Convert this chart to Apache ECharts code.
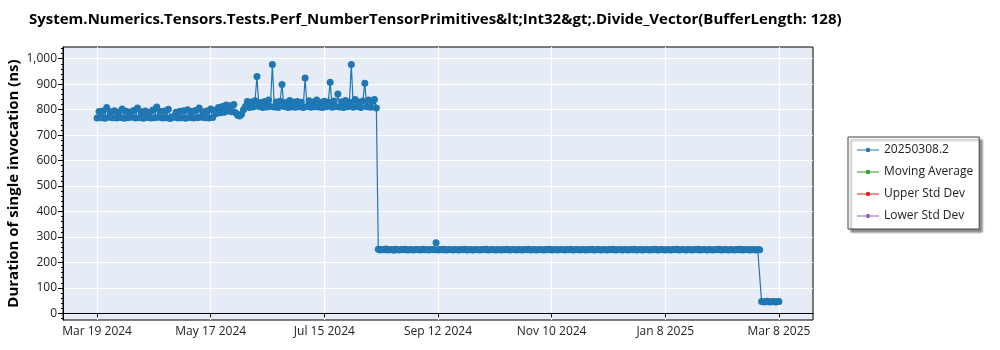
<!DOCTYPE html>
<html><head><meta charset="utf-8">
<script src="https://cdn.jsdelivr.net/npm/echarts@6/dist/echarts.min.js"></script>
<style>html,body{margin:0;padding:0;background:#fff}#c{width:1000px;height:350px}</style>
</head><body><div id="c"></div>
<script>
const titleText = 'System.Numerics.Tensors.Tests.Perf_NumberTensorPrimitives&lt;Int32&gt;.Divide_Vector(BufferLength: 128)';
const yAxisTitle = 'Duration of single invocation (ns)';
const seriesNames = ['20250308.2', 'Moving Average', 'Upper Std Dev', 'Lower Std Dev'];
const seriesColors = ['#1f77b4', '#2ca02c', '#d62728', '#9467bd'];

// one value per day, starting at startDate
const startDate = '2024-03-19';
// Mar 19 - May 19 2024
const seg1 = [767,793,768,795,766,808,770,792,768,796,767,790,769,803,766,794,768,791,770,797,
  767,806,768,792,766,795,769,790,767,799,768,810,770,793,767,795,768,802,765,772,
  770,790,767,794,768,796,766,800,769,793,767,797,768,806,770,792,768,795,767,803,769,798];
// May 20 - Jun 3 2024
const seg2 = [785,808,788,812,790,818,795,815,792,820,788,778,775,782,800];
// Jun 4 - Aug 11 2024
const seg3 = [812,832,808,830,810,835,930,812,828,808,832,810,838,812,977,810,830,808,833,899,
  812,828,808,836,810,830,809,832,811,829,808,924,812,835,809,830,811,838,810,829,
  808,833,811,830,908,809,834,812,861,810,831,808,836,811,829,977,809,840,812,830,
  808,834,904,811,838,809,832,840,806];
// Aug 12 2024 - Feb 26 2025
const seg4 = [252,249,251,250,253,249,250,251,248,252,250,249,251,250,252,249,250,251,249,250,
  251,250,249,252,250,251,249,250,251,250,277,249,251,250,252,249,250,251,250,249,
  251,250,249,251,250,252,249,250,251,249,250,251,250,249,251,250,252,249,250,251,
  250,249,251,250,249,251,250,252,249,250,251,250,249,251,250,249,251,250,252,249,
  250,251,249,250,251,250,249,251,250,252,249,250,251,249,250,251,250,249,251,250,
  252,249,250,251,250,249,251,250,249,251,250,252,249,250,251,250,249,251,250,249,
  251,250,252,249,250,251,250,249,251,250,249,251,250,252,249,250,251,249,250,251,
  250,249,251,250,252,249,250,251,250,249,251,250,249,251,250,252,249,250,251,250,
  249,251,250,249,251,250,252,249,250,251,250,249,251,250,249,251,250,252,249,250,
  251,250,249,251,250,249,251,250,252,249,250,251,250,249,251,250,249,251,250];
// Feb 27 - Mar 8 2025
const seg5 = [47,45,46,48,45,46,47,45,46,47];

const xTickDates = ['2024-03-19','2024-05-17','2024-07-15','2024-09-12','2024-11-10','2025-01-08','2025-03-08'];
const xTickLabels = ['Mar 19 2024','May 17 2024','Jul 15 2024','Sep 12 2024','Nov 10 2024','Jan 8 2025','Mar 8 2025'];
const yTicks = [0,100,200,300,400,500,600,700,800,900,1000];

const DAY = 86400000;
const t0 = Date.parse(startDate + 'T00:00:00Z');
const values = [].concat(seg1, seg2, seg3, seg4, seg5);
const mainData = values.map((v, i) => [t0 + i * DAY, v]);
const xTickVals = xTickDates.map(d => Date.parse(d + 'T00:00:00Z'));
const labelOf = {};
xTickVals.forEach((v, i) => { labelOf[v] = xTickLabels[i]; });
const yMinor = [];
for (let v = -20; v <= 1040; v += 20) yMinor.push(v);

const lastT = t0 + (values.length - 1) * DAY;
const pad = (lastT - t0) * 0.05;
const yMin = -26, yMax = 1046;
const FONT = 'Open Sans';

const legendIcon = 'path://M0,6.4L22,6.4L22,7.6L0,7.6Z M13.2,7 A2.2,2.2 0 1 1 8.8,7 A2.2,2.2 0 1 1 13.2,7Z';

const chart = echarts.init(document.getElementById('c'), null, {renderer: 'canvas'});
const series = [{
  name: seriesNames[0], type: 'line', data: mainData,
  symbol: 'circle', symbolSize: 7, showAllSymbol: true,
  lineStyle: {width: 1.2, color: seriesColors[0]},
  itemStyle: {color: seriesColors[0]},
  emphasis: {disabled: true}, animation: false
}];
for (let k = 1; k < 4; k++) {
  series.push({name: seriesNames[k], type: 'line', data: [], symbol: 'circle',
    lineStyle: {color: seriesColors[k]}, itemStyle: {color: seriesColors[k]}});
}
chart.setOption({
  animation: false,
  textStyle: {fontFamily: FONT},
  title: {text: titleText, left: 24, top: 7,
    textStyle: {fontFamily: FONT, fontWeight: 'bold', fontSize: 15, color: '#000'}},
  legend: {
    orient: 'vertical', left: 848, top: 137,
    padding: [6, 6, 6, 9], itemGap: 8, itemWidth: 22, itemHeight: 14,
    backgroundColor: '#fff', borderColor: '#444', borderWidth: 1,
    shadowColor: 'rgba(0,0,0,0.45)', shadowBlur: 2, shadowOffsetX: 3, shadowOffsetY: 3,
    textStyle: {fontFamily: FONT, fontSize: 12, color: '#222', lineHeight: 14},
    data: seriesNames.map(n => ({name: n, icon: legendIcon}))
  },
  grid: {left: 63, right: 187, top: 47, bottom: 30, show: true,
    backgroundColor: '#e5ecf6', borderColor: '#000', borderWidth: 1, outerBoundsMode: 'none'},
  xAxis: {
    type: 'value', min: t0 - pad, max: lastT + pad,
    axisLine: {show: true, lineStyle: {color: '#000', width: 1}},
    axisTick: {show: true, customValues: xTickVals, length: 4, lineStyle: {color: '#000'}},
    axisLabel: {customValues: xTickVals, formatter: v => labelOf[v] || '', color: '#222',
      fontSize: 12, margin: 6, fontFamily: FONT, hideOverlap: false},
    splitLine: {show: true, lineStyle: {color: '#fff', width: 1}}
  },
  yAxis: [{
    type: 'value', min: yMin, max: yMax,
    name: yAxisTitle, nameLocation: 'middle', nameGap: 42, nameMoveOverlap: false,
    nameTextStyle: {fontFamily: FONT, fontWeight: 'bold', fontSize: 15, color: '#000'},
    axisLine: {show: true, lineStyle: {color: '#000', width: 1}},
    axisTick: {show: true, customValues: yTicks, length: 5, lineStyle: {color: '#000'}},
    axisLabel: {customValues: yTicks, formatter: v => v.toLocaleString('en-US'), color: '#222',
      fontSize: 12, margin: 6, fontFamily: FONT},
    splitLine: {show: true, lineStyle: {color: '#fff', width: 1}}
  }, {
    type: 'value', min: yMin, max: yMax, position: 'left',
    axisLine: {show: false},
    axisTick: {show: true, customValues: yMinor, length: 2, lineStyle: {color: '#000'}},
    axisLabel: {show: false},
    splitLine: {show: false}
  }],
  series: series
});
</script>
</body></html>
